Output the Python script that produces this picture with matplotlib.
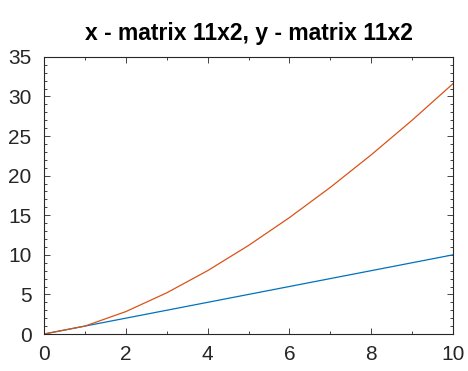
import matplotlib.pyplot as plt
from matplotlib.ticker import MultipleLocator

plt.rcParams['font.family'] = ['Liberation Sans', 'DejaVu Sans']

x = [0, 1, 2, 3, 4, 5, 6, 7, 8, 9, 10]
y_lin = [0, 1, 2, 3, 4, 5, 6, 7, 8, 9, 10]
y_pow = [0, 1, 2.83, 5.2, 8, 11.18, 14.7, 18.52, 22.63, 27, 31.62]
title = 'x - matrix 11x2, y - matrix 11x2'

fig = plt.figure(figsize=(4.68, 3.71), dpi=100)
ax = fig.add_axes([0.094, 0.0997, 0.874, 0.747])

ax.plot(x, y_lin, color='#0072BD', lw=0.9)
ax.plot(x, y_pow, color='#D95319', lw=0.9)

ax.set_xlim(0, 10)
ax.set_ylim(0, 35)
ax.xaxis.set_major_locator(MultipleLocator(2))
ax.xaxis.set_minor_locator(MultipleLocator(1))
ax.yaxis.set_major_locator(MultipleLocator(5))
ax.yaxis.set_minor_locator(MultipleLocator(1))
ax.tick_params(which='both', direction='in', top=True, right=True,
               color='#262626', width=0.6)
ax.tick_params(which='major', length=4, labelsize=15, labelcolor='#262626')
ax.tick_params(axis='x', which='major', pad=8)
ax.tick_params(axis='y', which='major', pad=9)
ax.tick_params(which='minor', length=2)
for s in ax.spines.values():
    s.set_color('#262626')
    s.set_linewidth(0.8)

ax.set_title(title, fontsize=16.5, fontweight='bold', pad=12)

fig.savefig('out.png', dpi=100)
